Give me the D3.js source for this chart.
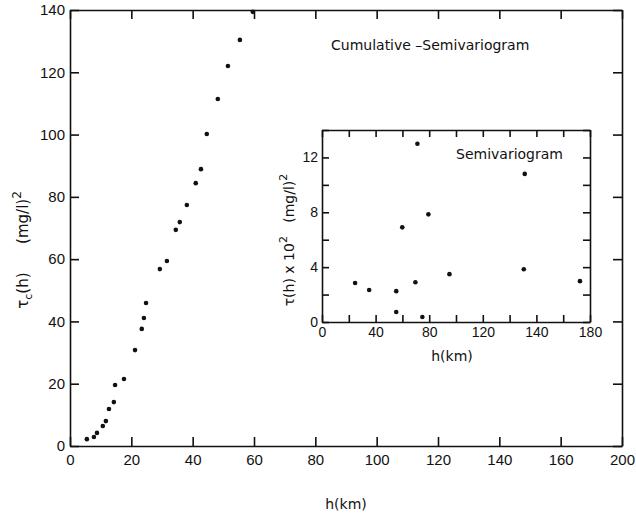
<!DOCTYPE html>
<html lang="en">
<head>
    <meta charset="UTF-8">
    <title>Cumulative semivariogram</title>
    <style>
        body { margin: 0; background: #fff; }
        svg { font-family: "DejaVu Sans", sans-serif; }
        .axis path, .axis line { stroke: #111; stroke-width: 1.6px; }
        .axis text { font-size: 15px; fill: #111; }
        .inset .axis text { font-size: 14px; }
        .lbl { font-size: 14px; fill: #111; white-space: pre; }
    </style>
</head>
<body>
    <div id="chart"></div>
    <script src="https://d3js.org/d3.v7.min.js"></script>
    <script>
        const width = 636;
        const height = 519;

        // cumulative semivariogram (main plot)
        const cumH = [5.5, 7.8, 8.8, 10.7, 11.7, 12.7, 14.3, 14.7, 17.6, 21.2, 23.4, 24.1, 24.8,
                      29.3, 31.6, 34.5, 35.8, 38.1, 41.0, 42.7, 44.6, 48.2, 51.5, 55.4, 59.6];
        const cumGamma = [2.2, 2.9, 4.2, 6.4, 8.0, 11.9, 14.1, 19.6, 21.5, 30.8, 37.6, 41.1, 45.9,
                          56.8, 59.4, 69.4, 71.9, 77.4, 84.4, 88.9, 100.2, 111.4, 122.0, 130.4, 139.4];

        // semivariogram (inset)
        const semiH = [24.7, 35.2, 55.4, 55.4, 59.9, 69.7, 71.2, 74.9, 79.4, 95.1, 150.6, 151.3, 192.5];
        const semiGamma = [2.84, 2.33, 2.25, 0.73, 6.9, 2.9, 13.0, 0.36, 7.85, 3.49, 3.85, 10.8, 2.98];

        // tick positions and the labels printed on them
        const mainXTicks = [0, 20, 40, 60, 80, 100, 120, 140, 160, 180];
        const mainXLabels = ["0", "20", "40", "60", "80", "100", "120", "140", "160", "200"];
        const mainYTicks = [0, 20, 40, 60, 80, 100, 120, 140];
        const insetXTicks = [0, 20, 40, 60, 80, 100, 120, 140, 160, 180, 200];
        const insetXLabels = {0: "0", 40: "40", 80: "80", 120: "120", 160: "140", 200: "180"};
        const insetYTicks = [0, 2, 4, 6, 8, 10, 12, 14];
        const insetYLabels = [0, 4, 8, 12];

        const svg = d3.select("#chart").append("svg")
            .attr("width", width)
            .attr("height", height);

        // main plot
        const x = d3.scaleLinear().domain([0, 180]).range([70, 622]);
        const y = d3.scaleLinear().domain([0, 140]).range([446, 10]);

        svg.append("g").attr("class", "axis")
            .attr("transform", `translate(0,${y(0)})`)
            .call(d3.axisBottom(x).tickValues(mainXTicks).tickSizeInner(-9).tickSizeOuter(0).tickPadding(8)
                .tickFormat((d, i) => mainXLabels[i]));
        svg.append("g").attr("class", "axis")
            .attr("transform", `translate(0,${y(140)})`)
            .call(d3.axisTop(x).tickValues(mainXTicks).tickSizeInner(-9).tickSizeOuter(0).tickFormat(""));
        svg.append("g").attr("class", "axis")
            .attr("transform", `translate(${x(0)},0)`)
            .call(d3.axisLeft(y).tickValues(mainYTicks).tickSizeInner(-9).tickSizeOuter(0).tickPadding(5));
        svg.append("g").attr("class", "axis")
            .attr("transform", `translate(${x(180)},0)`)
            .call(d3.axisRight(y).tickValues(mainYTicks).tickSizeInner(-9).tickSizeOuter(0).tickFormat(""));

        svg.append("g").selectAll("circle")
            .data(cumH.map((h, i) => [h, cumGamma[i]]))
            .join("circle")
            .attr("cx", d => x(d[0]))
            .attr("cy", d => y(d[1]))
            .attr("r", 2.3)
            .attr("fill", "#111");

        svg.append("text").attr("class", "lbl")
            .attr("x", 331).attr("y", 50)
            .text("Cumulative \u2013Semivariogram");

        svg.append("text").attr("class", "lbl")
            .attr("x", 346).attr("y", 509).attr("text-anchor", "middle")
            .attr("font-size", 15)
            .text("h(km)");

        const yl = svg.append("text").attr("class", "lbl")
            .attr("transform", "translate(28,250) rotate(-90)")
            .attr("text-anchor", "middle")
            .style("font-size", "15px");
        yl.append("tspan").text("\u03c4");
        yl.append("tspan").attr("font-size", 11).attr("dy", 4).text("c");
        yl.append("tspan").attr("dy", -4).text("(h)      (mg/l)");
        yl.append("tspan").attr("font-size", 12).attr("dy", -7).text("2");

        // inset
        const g = svg.append("g").attr("class", "inset");
        const xi = d3.scaleLinear().domain([0, 200]).range([322, 590]);
        const yi = d3.scaleLinear().domain([0, 14]).range([322, 130]);

        g.append("rect")
            .attr("x", xi(0)).attr("y", yi(14))
            .attr("width", xi(200) - xi(0)).attr("height", yi(0) - yi(14))
            .attr("fill", "#fff");

        g.append("g").attr("class", "axis")
            .attr("transform", `translate(0,${yi(0)})`)
            .call(d3.axisBottom(xi).tickValues(insetXTicks).tickSizeInner(-7).tickSizeOuter(0).tickPadding(5)
                .tickFormat(d => insetXLabels[d] || ""));
        g.append("g").attr("class", "axis")
            .attr("transform", `translate(0,${yi(14)})`)
            .call(d3.axisTop(xi).tickValues(insetXTicks).tickSizeInner(-7).tickSizeOuter(0).tickFormat(""));
        g.append("g").attr("class", "axis")
            .attr("transform", `translate(${xi(0)},0)`)
            .call(d3.axisLeft(yi).tickValues(insetYTicks).tickSizeInner(-7).tickSizeOuter(0).tickPadding(4)
                .tickFormat(d => insetYLabels.includes(d) ? d : ""));
        g.append("g").attr("class", "axis")
            .attr("transform", `translate(${xi(200)},0)`)
            .call(d3.axisRight(yi).tickValues(insetYTicks).tickSizeInner(-7).tickSizeOuter(0).tickFormat(""));

        g.append("g").selectAll("circle")
            .data(semiH.map((h, i) => [h, semiGamma[i]]))
            .join("circle")
            .attr("cx", d => xi(d[0]))
            .attr("cy", d => yi(d[1]))
            .attr("r", 2.3)
            .attr("fill", "#111");

        g.append("text").attr("class", "lbl")
            .attr("x", 456).attr("y", 159)
            .text("Semivariogram");

        g.append("text").attr("class", "lbl")
            .attr("x", 452).attr("y", 361).attr("text-anchor", "middle")
            .text("h(km)");

        const yli = g.append("text").attr("class", "lbl")
            .attr("transform", "translate(294,240) rotate(-90)")
            .attr("text-anchor", "middle");
        yli.append("tspan").text("\u03c4(h) x 10");
        yli.append("tspan").attr("font-size", 11).attr("dy", -7).text("2");
        yli.append("tspan").attr("dy", 7).text("   (mg/l)");
        yli.append("tspan").attr("font-size", 11).attr("dy", -7).text("2");
    </script>
</body>
</html>
